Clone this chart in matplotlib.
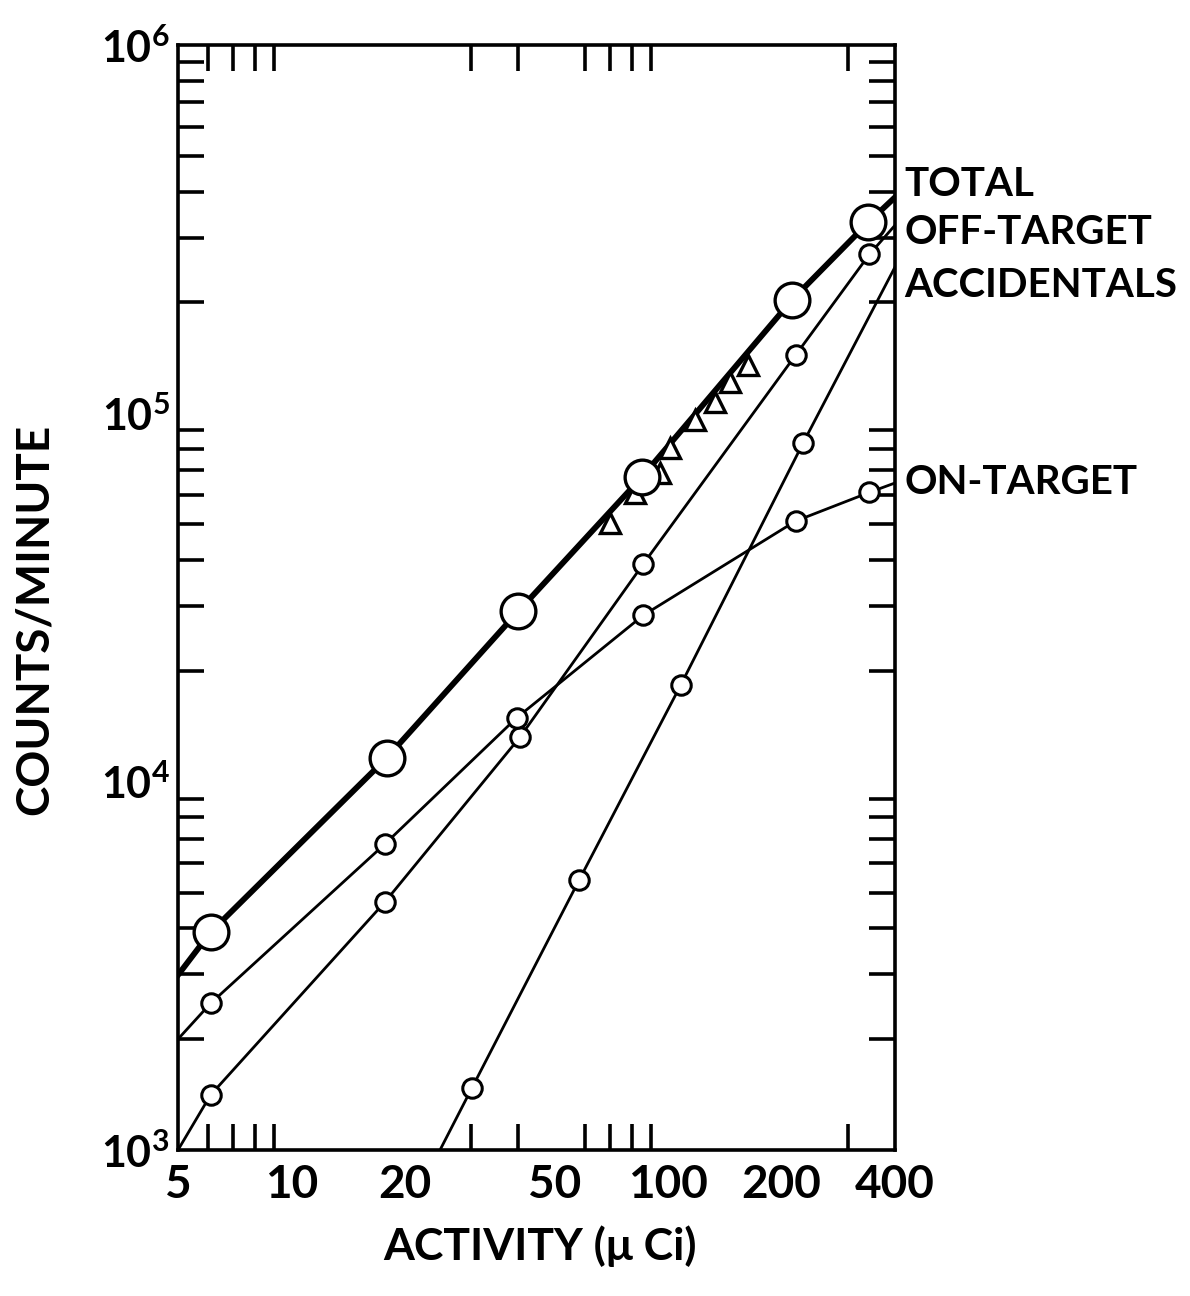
import matplotlib
matplotlib.use('Agg')
import matplotlib.pyplot as plt
from matplotlib.ticker import FixedLocator, NullFormatter

plt.rcParams['font.family'] = ['Lato', 'DejaVu Sans']

# TOTAL (large circles, heavy line)
total_x = [6.1, 17.9, 40, 85, 213, 340]
total_y = [3900, 11600, 29000, 67000, 203000, 330000]
total_line_x = [5, 6.1, 17.9, 40, 85, 213, 340, 400]
total_line_y = [2985, 3900, 11600, 29000, 67000, 203000, 330000, 386000]

# OFF-TARGET
off_x = [6.1, 17.7, 40.4, 85.9, 218, 342]
off_y = [1410, 4710, 13200, 39000, 144000, 270000]
off_line_x = [5, 6.1, 17.7, 40.4, 85.9, 218, 342, 400]
off_line_y = [1000, 1410, 4710, 13200, 39000, 144000, 270000, 324000]

# ACCIDENTALS
acc_x = [30.1, 58, 108, 228]
acc_y = [1470, 5400, 18300, 83000]
acc_line_x = [24.8, 30.1, 58, 108, 228, 400]
acc_line_y = [1000, 1470, 5400, 18300, 83000, 249500]

# ON-TARGET
on_x = [6.1, 17.7, 39.6, 85.9, 218, 342]
on_y = [2500, 6770, 14900, 28300, 51000, 61000]
on_line_x = [5, 6.1, 17.7, 39.6, 85.9, 218, 342, 400]
on_line_y = [2000, 2500, 6770, 14900, 28300, 51000, 61000, 64700]

# triangles along TOTAL line
tri_x = [70.1, 81.6, 95.1, 101, 118, 133, 146, 163]
tri_y = [50400, 60800, 68900, 80500, 95900, 107300, 121600, 135300]

labels = ['TOTAL', 'OFF-TARGET', 'ACCIDENTALS', 'ON-TARGET']
label_y = [417000, 310000, 223000, 64700]

xtick_vals = [5, 10, 20, 50, 100, 200, 400]
xtick_labels = ['5', '10', '20', '50', '100', '200', '400']
ytick_vals = [1e3, 1e4, 1e5, 1e6]
ytick_labels = [r'$\mathregular{10^3}$', r'$\mathregular{10^4}$',
                r'$\mathregular{10^5}$', r'$\mathregular{10^6}$']

fig = plt.figure(figsize=(11.9, 12.96), dpi=100)
ax = fig.add_axes([178/1190, 1 - 1150/1296, 717/1190, 1105/1296])
ax.set_xscale('log')
ax.set_yscale('log')
ax.set_xlim(5, 400)
ax.set_ylim(1e3, 1e6)

ax.plot(total_line_x, total_line_y, color='black', lw=4.2, zorder=3)
ax.plot(off_line_x, off_line_y, color='black', lw=2.0, zorder=3)
ax.plot(acc_line_x, acc_line_y, color='black', lw=2.0, zorder=3)
ax.plot(on_line_x, on_line_y, color='black', lw=2.0, zorder=3)

ax.plot(tri_x, tri_y, ls='none', marker='^', ms=15, mfc='white', mec='black', mew=2.4, zorder=4)
ax.plot(total_x, total_y, ls='none', marker='o', ms=25, mfc='white', mec='black', mew=2.4, zorder=5)
ax.plot(off_x, off_y, ls='none', marker='o', ms=14, mfc='white', mec='black', mew=2.2, zorder=5)
ax.plot(acc_x, acc_y, ls='none', marker='o', ms=14, mfc='white', mec='black', mew=2.2, zorder=5)
ax.plot(on_x, on_y, ls='none', marker='o', ms=14, mfc='white', mec='black', mew=2.2, zorder=5)

for s in ax.spines.values():
    s.set_linewidth(2.6)

# x ticks
ax.xaxis.set_major_locator(FixedLocator(xtick_vals))
ax.set_xticklabels(xtick_labels, fontweight='bold')
ax.xaxis.set_minor_locator(FixedLocator([6, 7, 8, 9, 10, 20, 30, 40, 50, 60, 70, 80, 90, 100, 200, 300]))
ax.xaxis.set_minor_formatter(NullFormatter())
ax.tick_params(axis='x', which='major', length=0, pad=10, labelsize=33)
ax.tick_params(axis='x', which='minor', direction='in', length=19, width=2.6, top=True, bottom=True)

# y ticks
ax.yaxis.set_major_locator(FixedLocator(ytick_vals))
ax.set_yticklabels(ytick_labels, fontweight='bold')
yminor = [m * 10 ** d for d in (3, 4, 5) for m in range(2, 10)] + [1e4, 1e5]
ax.yaxis.set_minor_locator(FixedLocator(yminor))
ax.yaxis.set_minor_formatter(NullFormatter())
ax.tick_params(axis='y', which='major', length=0, pad=6, labelsize=31)
ax.tick_params(axis='y', which='minor', direction='in', length=19, width=2.6, left=True, right=True)

for lab, yv in zip(labels, label_y):
    ax.text(1.013, yv, lab, transform=ax.get_yaxis_transform(), ha='left', va='center',
            fontsize=29, fontweight='bold')

ax.set_xlabel('ACTIVITY (μ Ci)', fontsize=32, fontweight='bold')
ax.xaxis.set_label_coords(0.505, -0.068)
ax.set_ylabel('COUNTS/MINUTE', fontsize=33, fontweight='bold')
ax.yaxis.set_label_coords(-0.17, 0.48)

fig.savefig('out.png', dpi=100, facecolor='white')
